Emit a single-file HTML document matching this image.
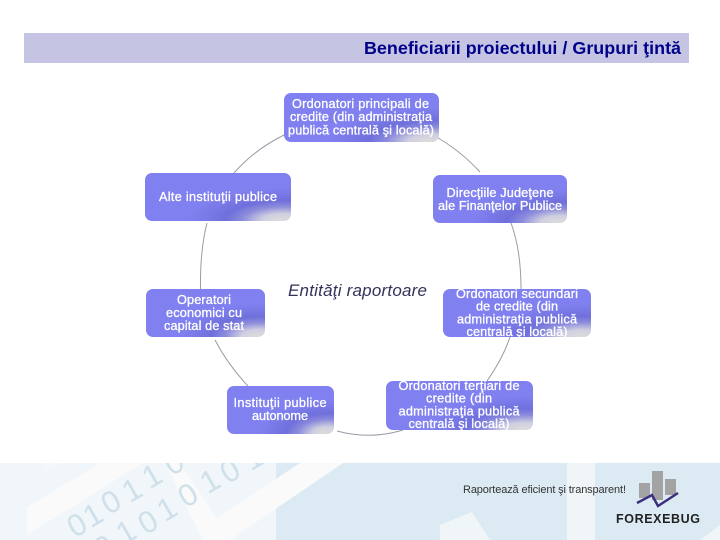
<!DOCTYPE html>
<html><head><meta charset="utf-8">
<style>html,body{margin:0;padding:0;background:#fff}svg{display:block}
.n{font:12.700px "Liberation Sans",sans-serif;fill:#fff;stroke:#fff;stroke-width:.3;text-anchor:middle}
.d text{text-anchor:middle;dominant-baseline:central}</style></head>
<body>
<svg width="720" height="540" viewBox="0 0 720 540" xmlns="http://www.w3.org/2000/svg">
<defs>
<radialGradient id="g" cx="1" cy="1" r="1" fx=".9" fy=".98" gradientTransform="translate(0.3 0.3) scale(.7)">
<stop offset="0" stop-color="#dcdcdc"/><stop offset=".2" stop-color="#cfcfe0"/><stop offset=".42" stop-color="#8c8cdc"/><stop offset=".6" stop-color="#7070dc"/><stop offset="1" stop-color="#8080f0"/>
</radialGradient>
<clipPath id="f"><rect x="0" y="463" width="276" height="77"/></clipPath>
</defs>
<rect x="24" y="33" width="665" height="30" fill="#c5c5e3"/>
<text x="364" y="54" font-family="Liberation Sans" font-weight="bold" font-size="17.900" fill="#00008b" textLength="317">Beneficiarii proiectului / Grupuri ţintă</text>

<g fill="none" stroke="#9a9aa8" stroke-width="1">
<path d="M284 135Q254 150 234 173"/>
<path d="M433 135Q460 150 480 172"/>
<path d="M511 223Q521 250 521 289"/>
<path d="M510 337Q503 358 487 381"/>
<path d="M337 431Q370 440 403 430"/>
<path d="M215 340Q228 365 248 386"/>
<path d="M207 223Q200 250 200.500 289"/>
</g>

<g>
<rect x="284" y="93" width="155" height="49" rx="7" fill="url(#g)"/>
<rect x="145" y="173" width="146" height="48" rx="7" fill="url(#g)"/>
<rect x="433" y="175" width="134" height="48" rx="7" fill="url(#g)"/>
<rect x="443" y="289" width="148" height="48" rx="7" fill="url(#g)"/>
<rect x="146" y="289" width="119" height="48" rx="7" fill="url(#g)"/>
<rect x="227" y="386" width="107" height="48" rx="7" fill="url(#g)"/>
<rect x="386" y="381" width="147" height="49" rx="7" fill="url(#g)"/>
</g>

<text class="n" x="360.500" y="108" textLength="137">Ordonatori principali de</text>
<text class="n" x="361" y="121" textLength="142">credite (din administraţia</text>
<text class="n" x="361" y="134.500" textLength="146">publică centrală şi locală)</text>
<text class="n" x="218" y="201" textLength="118">Alte instituţii publice</text>
<text class="n" x="500" y="197" textLength="107">Direcţiile Judeţene</text>
<text class="n" x="500" y="210" textLength="124">ale Finanţelor Publice</text>
<text class="n" x="517" y="298" textLength="122">Ordonatori secundari</text>
<text class="n" x="517" y="310.500" textLength="82">de credite (din</text>
<text class="n" x="517" y="323.500" textLength="120">administraţia publică</text>
<text class="n" x="517" y="336" textLength="101">centrală şi locală)</text>
<text class="n" x="204" y="304" textLength="54">Operatori</text>
<text class="n" x="204" y="317" textLength="76">economici cu</text>
<text class="n" x="204" y="330" textLength="80">capital de stat</text>
<text class="n" x="280" y="407" textLength="93">Instituţii publice</text>
<text class="n" x="280" y="420" textLength="56">autonome</text>
<text class="n" x="459" y="390" textLength="121">Ordonatori terţiari de</text>
<text class="n" x="459" y="402.500" textLength="66">credite (din</text>
<text class="n" x="459" y="415.500" textLength="121">administraţia publică</text>
<text class="n" x="459" y="428" textLength="101">centrală şi locală)</text>

<text x="288" y="296" font-family="Liberation Sans" font-style="italic" font-size="17" fill="#33335a" textLength="139">Entităţi raportoare</text>

<rect x="0" y="463" width="276" height="77" fill="#f0f6f9"/>
<rect x="276" y="463" width="444" height="77" fill="#dceaf3"/>
<rect x="567" y="463" width="28" height="77" fill="#f0f5f8"/>
<polygon points="27,507 100,463 143,463 27,535" fill="#fafafa"/>
<polygon points="43,475 63,463 43,463" fill="#f5f8fa"/>
<polygon points="165,463 180,463 217,518 300,463 343,463 230,540 203,540" fill="#fafafa"/>
<polygon points="440,525 472,512 490,540 440,540" fill="#f0f5f8"/>
<polygon points="700,540 720,525 720,540" fill="#f0f5f8"/>
<g class="d" clip-path="url(#f)" font-family="Liberation Sans" font-size="31" fill="#cfe0ea">
<text transform="translate(77 525) rotate(-30)">0</text>
<text transform="translate(93 515) rotate(-30)">1</text>
<text transform="translate(111 502) rotate(-30)">0</text>
<text transform="translate(132 490) rotate(-30)">1</text>
<text transform="translate(152 476) rotate(-30)">1</text>
<text transform="translate(174 463) rotate(-30)">0</text>
<text transform="translate(104 547) rotate(-30)">0</text>
<text transform="translate(126 532) rotate(-30)">1</text>
<text transform="translate(148 522) rotate(-30)">0</text>
<text transform="translate(167 509) rotate(-30)">1</text>
<text transform="translate(188 495) rotate(-30)">0</text>
<text transform="translate(210 481) rotate(-30)">1</text>
<text transform="translate(230 471) rotate(-30)">0</text>
<text transform="translate(253 458) rotate(-30)">1</text>
</g>

<text x="463" y="493" font-family="Liberation Sans" font-size="11" fill="#333" textLength="163">Raportează eficient şi transparent!</text>
<rect x="639" y="483" width="11" height="15" fill="#a3a3a3"/>
<rect x="652" y="471" width="11" height="29" fill="#a3a3a3"/>
<rect x="665" y="479" width="11" height="16" fill="#a3a3a3"/>
<polyline points="637,503 652,495 658,506 678,493" fill="none" stroke="#3d2f7f" stroke-width="2.500"/>
<text x="616" y="523" font-family="Liberation Sans" font-weight="bold" font-size="12.500" fill="#222" textLength="84">FOREXEBUG</text>
</svg>
</body></html>
